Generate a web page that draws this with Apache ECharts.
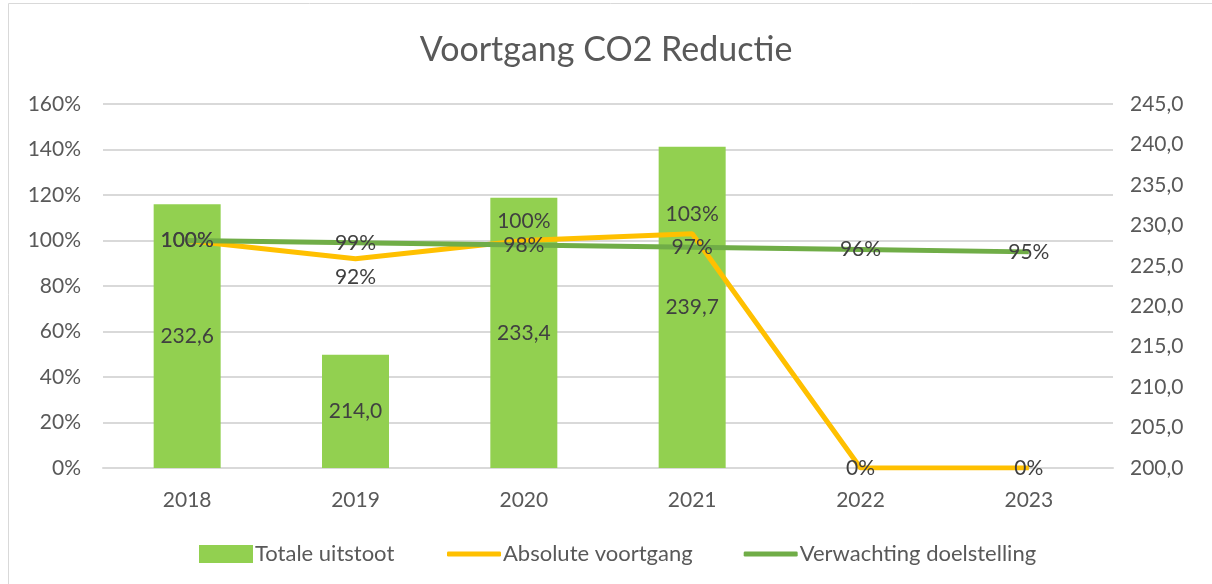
<!DOCTYPE html>
<html>
<head>
<meta charset="utf-8">
<script src="https://cdn.jsdelivr.net/npm/echarts@6/dist/echarts.min.js"></script>
<style>
    html, body { margin: 0; padding: 0; background: #fff; }
    #chart { width: 1212px; height: 584px; }
</style>
</head>
<body>
<div id="chart"></div>
<script>
const years = ['2018', '2019', '2020', '2021', '2022', '2023'];
const totaleUitstoot = [232.6, 214.0, 233.4, 239.7, null, null];
const absoluteVoortgang = [100, 92, 100, 103, 0, 0];
const verwachtingDoelstelling = [100, 99, 98, 97, 96, 95];

// where Excel put each label of the yellow line
const absoluteLabelPos = ['inside', 'bottom', 'top', 'top', 'inside', 'inside'];

const chart_dom = document.getElementById('chart');
const chart = echarts.init(chart_dom);

const fontFamily = 'Lato, "Open Sans", sans-serif';
const comma = (v, d) => v.toFixed(d).replace('.', ',');
const pct = (p) => p.value + '%';

let option = {
    animation: false,
    textStyle: { fontFamily: fontFamily },
    graphic: [{
        type: 'rect',
        shape: { x: 8.5, y: 3.5, width: 1220, height: 600 },
        style: { fill: 'none', stroke: '#d9d9d9', lineWidth: 1 },
        silent: true
    }],
    title: {
        text: 'Voortgang CO2 Reductie',
        left: 'center',
        top: 28,
        textStyle: { color: '#595959', fontSize: 34, fontWeight: 'normal', fontFamily: fontFamily }
    },
    legend: [{
        left: 194,
        top: 538,
        itemWidth: 54,
        itemHeight: 18,
        textStyle: { color: '#595959', fontSize: 22, padding: [0, 0, 0, -3] },
        data: [{ name: 'Totale uitstoot', icon: 'rect' }]
    }, {
        left: 442,
        top: 538,
        itemGap: 51,
        itemWidth: 54,
        itemHeight: 5,
        textStyle: { color: '#595959', fontSize: 22, padding: [0, 0, 0, -3] },
        data: [
            { name: 'Absolute voortgang', icon: 'roundRect' },
            { name: 'Verwachting doelstelling', icon: 'roundRect' }
        ]
    }],
    grid: { left: 103, right: 99, top: 104, bottom: 116, containLabel: false },
    xAxis: {
        type: 'category',
        data: years,
        axisLine: { lineStyle: { color: '#d9d9d9', width: 2 } },
        axisTick: { show: false },
        axisLabel: { color: '#595959', fontSize: 21, margin: 22 }
    },
    yAxis: [{
        type: 'value',
        min: 0,
        max: 160,
        interval: 20,
        axisLabel: { color: '#595959', fontSize: 21, margin: 22, formatter: '{value}%' },
        splitLine: { lineStyle: { color: '#d9d9d9', width: 2 } }
    }, {
        type: 'value',
        min: 200,
        max: 245,
        interval: 5,
        axisLabel: { color: '#595959', fontSize: 21, margin: 17, formatter: (v) => comma(v, 1) },
        splitLine: { show: false }
    }],
    series: [{
        name: 'Totale uitstoot',
        type: 'bar',
        yAxisIndex: 1,
        barWidth: 67,
        itemStyle: { color: '#92d050' },
        label: {
            show: true,
            position: 'inside',
            color: '#404040',
            fontSize: 21,
            formatter: (p) => comma(p.value, 1)
        },
        data: totaleUitstoot
    }, {
        name: 'Absolute voortgang',
        type: 'line',
        yAxisIndex: 0,
        symbol: 'circle',
        symbolSize: 1,
        lineStyle: { color: '#ffc000', width: 5 },
        itemStyle: { color: '#ffc000' },
        z: 3,
        data: absoluteVoortgang.map((v, i) => ({
            value: v,
            label: {
                show: true,
                position: absoluteLabelPos[i],
                distance: 8,
                color: '#404040',
                fontSize: 21,
                formatter: pct
            }
        }))
    }, {
        name: 'Verwachting doelstelling',
        type: 'line',
        yAxisIndex: 0,
        symbol: 'circle',
        symbolSize: 1,
        lineStyle: { color: '#70ad47', width: 5 },
        itemStyle: { color: '#70ad47' },
        z: 4,
        label: {
            show: true,
            position: 'inside',
            color: '#404040',
            fontSize: 21,
            formatter: pct
        },
        data: verwachtingDoelstelling
    }]
};

chart.setOption(option);
</script>
</body>
</html>
